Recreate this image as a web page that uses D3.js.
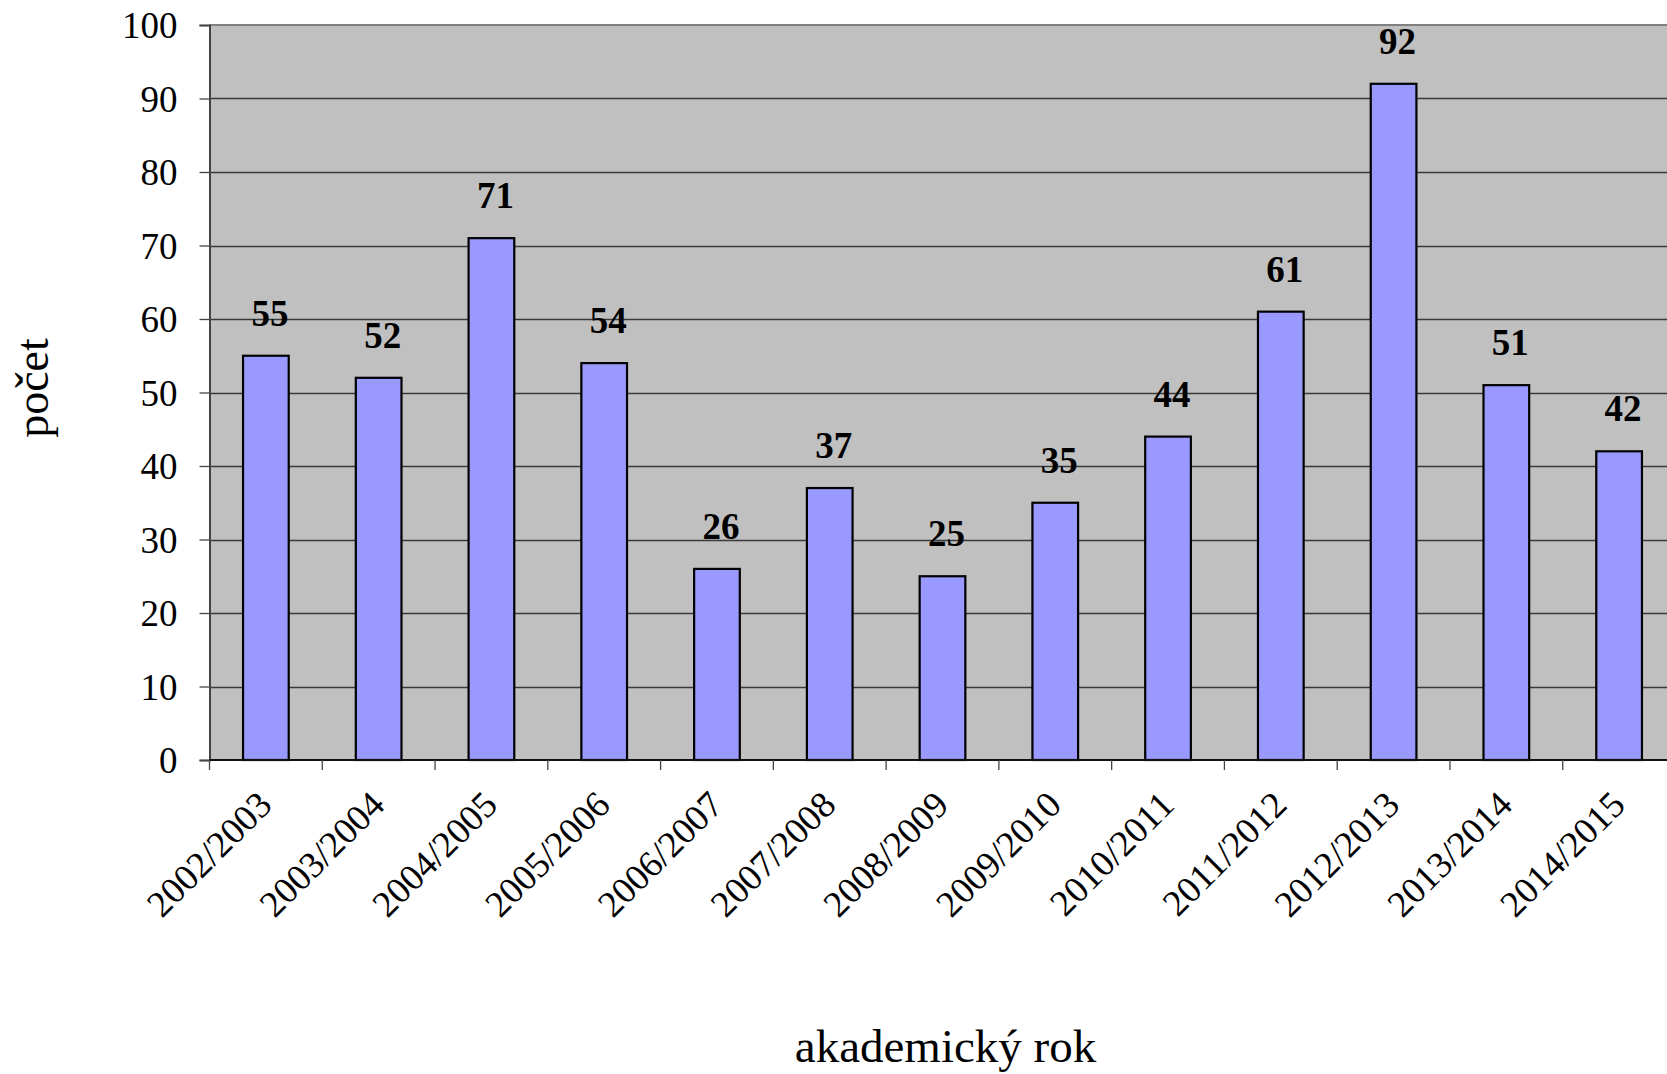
<!DOCTYPE html>
<html>
<head>
<meta charset="utf-8">
<script src="https://cdn.jsdelivr.net/npm/d3@7"></script>
<style>
  html, body { margin: 0; padding: 0; background: #fff; overflow: hidden; }
  svg { display: block; }
  text { font-family: "Liberation Serif", "Times New Roman", serif; fill: #000; }
</style>
</head>
<body>
<svg id="chart" width="1667" height="1074"></svg>
<script>
// ---- data ----
const categories = ["2002/2003","2003/2004","2004/2005","2005/2006","2006/2007","2007/2008",
  "2008/2009","2009/2010","2010/2011","2011/2012","2012/2013","2013/2014","2014/2015"];
const values = [55, 52, 71, 54, 26, 37, 25, 35, 44, 61, 92, 51, 42];
const yTicks = [0, 10, 20, 30, 40, 50, 60, 70, 80, 90, 100];
const xTitle = "akademický rok";
const yTitle = "počet";

// ---- layout ----
const W = 1667, H = 1074;
const plot = { left: 209.5, right: 1675.5, top: 25, bottom: 760 };
const svg = d3.select("#chart");

const x = d3.scaleBand().domain(categories)
  .range([plot.left, plot.right]).paddingInner(0.595).paddingOuter(0.2975);
const y = d3.scaleLinear().domain([0, 100]).range([plot.bottom, plot.top]);

// plot background
svg.append("rect").attr("x", plot.left).attr("y", plot.top)
  .attr("width", plot.right - plot.left).attr("height", plot.bottom - plot.top)
  .attr("fill", "#c0c0c0");

// gridlines
svg.append("g").selectAll("line").data(yTicks.filter(t => t > 0 && t < 100)).join("line")
  .attr("x1", plot.left).attr("x2", plot.right)
  .attr("y1", d => Math.round(y(d)) + 0.5).attr("y2", d => Math.round(y(d)) + 0.5)
  .attr("stroke", "#3a3a3a").attr("stroke-width", 1.3);
// top border
svg.append("line").attr("x1", plot.left).attr("x2", plot.right)
  .attr("y1", plot.top).attr("y2", plot.top).attr("stroke", "#808080").attr("stroke-width", 2);

// y axis
const yAxis = d3.axisLeft(y).tickValues(yTicks).tickSize(10).tickPadding(22);
const gy = svg.append("g").attr("transform", `translate(${plot.left},0)`).call(yAxis);
gy.select(".domain").attr("stroke", "#444").attr("stroke-width", 2);
gy.selectAll(".tick line").attr("stroke", "#444").attr("stroke-width", 1.3);
gy.selectAll(".tick text").attr("font-size", 37).attr("font-family", "Liberation Serif")
  .attr("fill", "#000").attr("dy", "0.34em");

// bars
svg.append("g").selectAll("rect").data(values).join("rect")
  .attr("x", (d, i) => x(categories[i]))
  .attr("y", d => y(d))
  .attr("width", x.bandwidth())
  .attr("height", d => y(0) - y(d))
  .attr("fill", "#9999ff").attr("stroke", "#000").attr("stroke-width", 2.2);

// x axis
svg.append("line").attr("x1", plot.left).attr("x2", plot.right)
  .attr("y1", plot.bottom).attr("y2", plot.bottom).attr("stroke", "#111").attr("stroke-width", 2);
const gap = (x.step() - x.bandwidth()) / 2;
svg.append("g").selectAll("line").data(categories).join("line")
  .attr("x1", d => x(d) - gap).attr("x2", d => x(d) - gap)
  .attr("y1", plot.bottom).attr("y2", plot.bottom + 10)
  .attr("stroke", "#444").attr("stroke-width", 1.3);

// category labels
svg.append("g").selectAll("text").data(categories).join("text")
  .attr("transform", d => `translate(${x(d) + x.bandwidth() / 2 + 8},${plot.bottom + 47}) rotate(-45)`)
  .attr("text-anchor", "end").attr("font-size", 37).text(d => d);

// value labels
svg.append("g").selectAll("text").data(values).join("text")
  .attr("x", (d, i) => x(categories[i]) + x.bandwidth() / 2 + 4)
  .attr("y", d => y(d) - 30)
  .attr("text-anchor", "middle").attr("font-size", 37).attr("font-weight", "bold")
  .text(d => d);

// axis titles
svg.append("text").attr("x", (plot.left + plot.right) / 2 + 3).attr("y", 1062)
  .attr("text-anchor", "middle").attr("font-size", 47).text(xTitle);
svg.append("text").attr("transform", `translate(48,388) rotate(-90)`)
  .attr("text-anchor", "middle").attr("font-size", 46).text(yTitle);
</script>
</body>
</html>
